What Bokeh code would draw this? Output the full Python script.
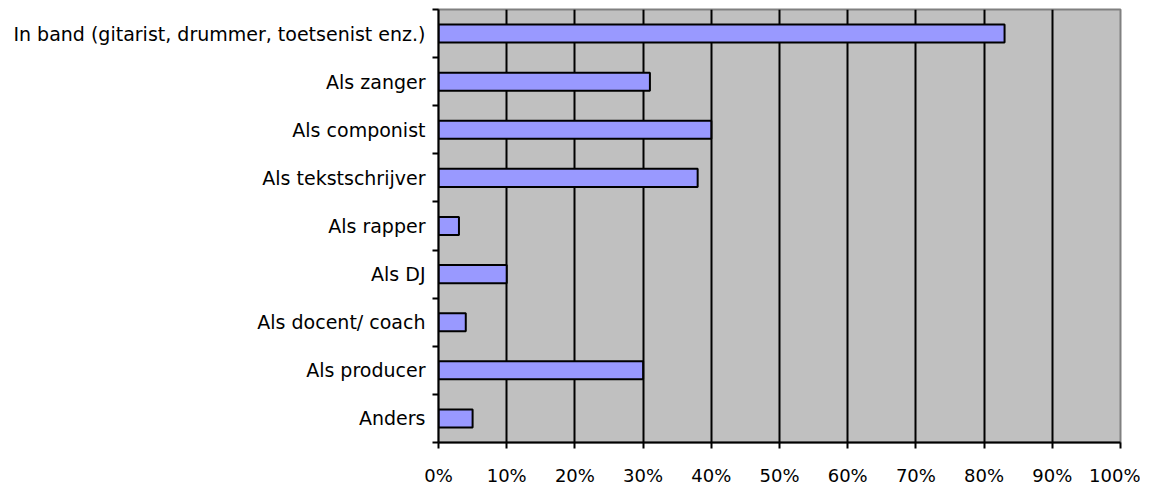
from bokeh.plotting import figure
from bokeh.models import FixedTicker, Range1d, PrintfTickFormatter
from bokeh.embed import file_html
from bokeh.resources import INLINE

categories = ["In band (gitarist, drummer, toetsenist enz.)", "Als zanger", "Als componist",
              "Als tekstschrijver", "Als rapper", "Als DJ", "Als docent/ coach",
              "Als producer", "Anders"]
values = [83, 31, 40, 38, 3, 10, 4, 30, 5]
x_ticks = [0, 10, 20, 30, 40, 50, 60, 70, 80, 90, 100]

n = len(categories)
ypos = [n - i - 0.5 for i in range(n)]

p = figure(width=1140, height=488, output_backend="svg", toolbar_location=None,
           x_range=Range1d(0, 100), y_range=Range1d(0, n),
           min_border_left=438, min_border_right=20, min_border_top=9, min_border_bottom=45)

p.background_fill_color = "#C0C0C0"
p.border_fill_color = "white"
p.outline_line_color = "#808080"
p.outline_line_width = 2

p.hbar(y=ypos, right=values, left=0, height=0.375, fill_color="#9999FF",
       line_color="black", line_width=2)

p.xgrid.ticker = FixedTicker(ticks=x_ticks)
p.xgrid.grid_line_color = "black"
p.xgrid.grid_line_width = 2
p.ygrid.grid_line_color = None

font = "DejaVu Sans"
xa = p.xaxis[0]
xa.ticker = FixedTicker(ticks=x_ticks)
xa.formatter = PrintfTickFormatter(format="%d%%")
xa.axis_line_color = "black"
xa.axis_line_width = 2
xa.major_tick_line_color = "black"
xa.major_tick_line_width = 2
xa.major_tick_out = 6
xa.major_tick_in = 0
xa.minor_tick_line_color = None
xa.major_label_text_font = font
xa.major_label_text_font_size = "18px"
xa.major_label_text_color = "black"
xa.major_label_standoff = 16

ya = p.yaxis[0]
ya.ticker = FixedTicker(ticks=ypos, minor_ticks=list(range(n + 1)))
ya.major_label_overrides = {y: c for y, c in zip(ypos, categories)}
ya.axis_line_color = "black"
ya.axis_line_width = 2
ya.major_tick_line_color = None
ya.minor_tick_line_color = "black"
ya.minor_tick_line_width = 2
ya.minor_tick_out = 6
ya.minor_tick_in = 0
ya.major_label_text_font = font
ya.major_label_text_font_size = "19px"
ya.major_label_text_color = "black"
ya.major_label_standoff = 7

open("out.html", "w").write(file_html(p, INLINE))
